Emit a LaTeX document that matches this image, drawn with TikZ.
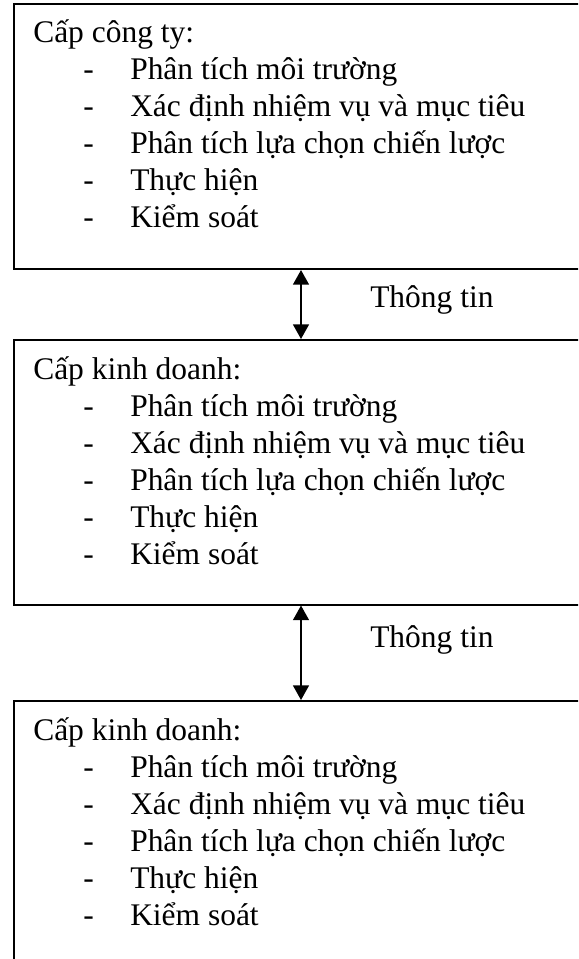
\documentclass[tikz,border=0pt]{standalone}
\usepackage{fontspec}
\setmainfont{Liberation Serif}
\usetikzlibrary{arrows.meta}

\tikzset{
  levelbox/.style={draw, line width=1.5pt, minimum width=465pt, minimum height=198.4pt,
                   anchor=north west, inner sep=0pt},
  heading/.style={anchor=base west, inner sep=0pt},
  bullet/.style={anchor=base west, inner sep=0pt},
  itemtext/.style={anchor=base west, inner sep=0pt},
  info/.style={line width=1.1pt, {Triangle[width=12pt,length=11pt]}-{Triangle[width=12pt,length=11pt]}},
  infolabel/.style={anchor=base west, inner sep=0pt}
}

\newcommand{\levelfont}{\fontsize{23.6}{27.9}\selectfont}

\begin{document}
\begin{tikzpicture}[x=0.75pt, y=-0.75pt, font=\levelfont]
  \useasboundingbox (0,0) rectangle (578,959);
  \clip (0,0) rectangle (578,959);

  % the three planning levels
  \node[levelbox] (b1) at (12.5,3.5) {};
  \node[levelbox] (b2) at (12.5,339) {};
  \node[levelbox, minimum height=225pt] (b3) at (12.5,700) {};

  % headings
  \node[heading] (h1) at (33,43) {Cấp công ty:};
  \node[heading] (h2) at (33,379) {Cấp kinh doanh:};
  \node[heading] (h3) at (33,740) {Cấp kinh doanh:};

  % task lists
  \foreach \bx/\y in {1/43, 2/379, 3/740} {
    \foreach \t [count=\i] in {Phân tích môi trường, Xác định nhiệm vụ và mục tiêu,
                                Phân tích lựa chọn chiến lược, Thực hiện, Kiểm soát} {
      \node[bullet] (d\bx-\i) at (83,\y+37*\i) {-};
      \node[itemtext] (t\bx-\i) at (130,\y+37*\i) {\t};
    }
  }

  % information flow between levels
  \coordinate (ax) at (301,0);
  \draw[info] (b1.south -| ax) -- (b2.north -| ax);
  \draw[info] (b2.south -| ax) -- (b3.north -| ax);
  \node[infolabel] (l1) at (370,307) {Thông tin};
  \node[infolabel] (l2) at (370,647) {Thông tin};
\end{tikzpicture}
\end{document}
